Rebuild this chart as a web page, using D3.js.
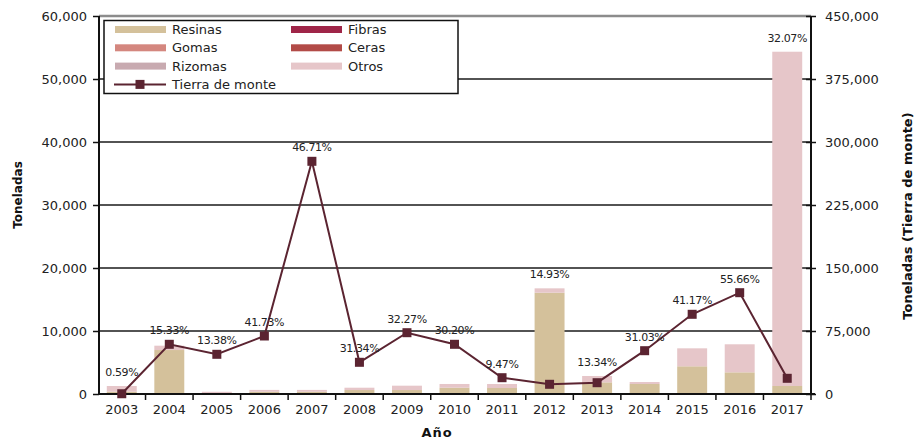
<!DOCTYPE html>
<html><head><meta charset="utf-8">
<script src="https://cdn.jsdelivr.net/npm/d3@7"></script>
<style>
html,body{margin:0;padding:0;background:#fff;}
svg{display:block;font-family:"DejaVu Sans",sans-serif;}
</style></head>
<body>
<svg id="chart" width="916" height="443"></svg>
<script>
const years = ["2003","2004","2005","2006","2007","2008","2009","2010","2011","2012","2013","2014","2015","2016","2017"];
const resinas = [370,6980,100,350,350,630,630,1000,950,16080,1850,1590,4400,3440,1270];
const fibras  = [0,0,0,0,0,0,0,0,0,0,0,0,0,0,0];
const gomas   = [0,0,0,0,0,0,0,0,0,0,0,0,0,0,0];
const ceras   = [0,0,0,0,0,0,0,0,0,0,0,0,0,0,0];
const rizomas = [0,0,0,0,0,0,0,0,0,0,0,0,0,0,0];
const otros   = [900,690,250,300,300,370,690,590,640,690,1010,310,2850,4450,53060];
const tierraDeMonte = [300,59170,47260,69050,277020,37740,72980,59170,19400,11550,13450,51550,94880,120600,18690];
const pctLabels = ["0.59%","15.33%","13.38%","41.73%","46.71%","31.34%","32.27%","30.20%","9.47%","14.93%","13.34%","31.03%","41.17%","55.66%","32.07%"];
const leftTicks = [0,10000,20000,30000,40000,50000,60000];
const rightTicks = [0,75000,150000,225000,300000,375000,450000];

const seriesNames = ["Resinas","Fibras","Gomas","Ceras","Rizomas","Otros"];
const seriesVals = [resinas,fibras,gomas,ceras,rizomas,otros];
const colors = {Resinas:"#d4c19b",Fibras:"#9f2548",Gomas:"#d4877f",Ceras:"#b24b47",Rizomas:"#c8aab0",Otros:"#e6c6c9"};
const lineColor = "#5b2431";

const svg = d3.select("#chart");
const L = 99, R = 811, T = 16, B = 394;

const x = d3.scaleBand().domain(years).range([98, 811]).paddingInner(0.37).paddingOuter(0.185);
const xc = d3.scaleBand().domain(years).range([98, 811]);
const yL = d3.scaleLinear().domain([0,60000]).range([B,T]);
const yR = d3.scaleLinear().domain([0,450000]).range([B,T]);

// gridlines
svg.append("g").selectAll("line").data(leftTicks.filter(d=>d>0)).join("line")
  .attr("x1",L).attr("x2",R).attr("y1",d=>yL(d)).attr("y2",d=>yL(d))
  .attr("stroke",d=>d===60000?"#8c8c8c":"#1a1a1a").attr("stroke-width",d=>d===60000?2.5:1.6);

// stacked bars
const table = years.map((yr,i)=>{const o={year:yr}; seriesNames.forEach((s,k)=>o[s]=seriesVals[k][i]); return o;});
const stacked = d3.stack().keys(seriesNames)(table);
svg.append("g").selectAll("g").data(stacked).join("g").attr("fill",d=>colors[d.key])
  .selectAll("rect").data(d=>d).join("rect")
  .attr("x",d=>x(d.data.year)).attr("width",x.bandwidth())
  .attr("y",d=>yL(d[1])).attr("height",d=>Math.max(0,yL(d[0])-yL(d[1])));

// axes
const gx = svg.append("g").attr("transform",`translate(0,${B})`)
  .call(d3.axisBottom(xc).tickSize(0).tickPadding(11));
gx.select(".domain").remove();
gx.selectAll("text").attr("font-size","13px").attr("fill","#222").attr("font-family","DejaVu Sans");
// boundary ticks
svg.append("g").selectAll("line").data(years.slice(1).concat(["end"])).join("line")
  .attr("x1",(d,i)=>xc(years[0])+ (i+1)*xc.step()).attr("x2",(d,i)=>xc(years[0])+(i+1)*xc.step())
  .attr("y1",B).attr("y2",B+6).attr("stroke","#111").attr("stroke-width",1.5);
svg.append("line").attr("x1",L).attr("x2",R+4).attr("y1",B).attr("y2",B).attr("stroke","#111").attr("stroke-width",2);

const gl = svg.append("g").attr("transform",`translate(${L},0)`)
  .call(d3.axisLeft(yL).tickValues(leftTicks).tickFormat(d3.format(",")).tickSize(6).tickPadding(6));
gl.select(".domain").attr("stroke","#111").attr("stroke-width",2).attr("d",`M0,${B}V${T}`);
gl.selectAll(".tick line").attr("stroke","#111").attr("stroke-width",1.5);
gl.selectAll("text").attr("font-size","13px").attr("fill","#222").attr("font-family","DejaVu Sans");

const gr = svg.append("g").attr("transform",`translate(${R},0)`)
  .call(d3.axisRight(yR).tickValues(rightTicks).tickFormat(d3.format(",")).tickSize(5).tickPadding(9));
gr.select(".domain").attr("stroke","#111").attr("stroke-width",2).attr("d",`M0,${B}V${T}`);
gr.selectAll(".tick line").attr("stroke","#111").attr("stroke-width",1.5).attr("x1",-5);
gr.selectAll("text").attr("font-size","13px").attr("fill","#222").attr("font-family","DejaVu Sans");

// line
const lineGen = d3.line().x((d,i)=>xc(years[i])+xc.bandwidth()/2).y(d=>yR(d));
svg.append("path").datum(tierraDeMonte).attr("d",lineGen).attr("fill","none")
  .attr("stroke",lineColor).attr("stroke-width",2);
svg.append("g").selectAll("rect").data(tierraDeMonte).join("rect")
  .attr("x",(d,i)=>xc(years[i])+xc.bandwidth()/2-4.5).attr("y",d=>yR(d)-4.5)
  .attr("width",9).attr("height",9).attr("fill",lineColor);

// percentage labels
const totals = years.map((y,i)=>d3.sum(seriesVals,s=>s[i]));
svg.append("g").selectAll("text").data(pctLabels).join("text")
  .attr("x",(d,i)=>xc(years[i])+xc.bandwidth()/2)
  .attr("y",(d,i)=>Math.min(yL(totals[i]),yR(tierraDeMonte[i]))-10)
  .attr("text-anchor","middle").attr("font-size","11px").attr("fill","#222")
  .attr("letter-spacing","-0.4px").text(d=>d);

// axis titles
svg.append("text").attr("transform","translate(22,195) rotate(-90)").attr("text-anchor","middle")
  .attr("font-size","12px").attr("font-weight","bold").attr("fill","#111").text("Toneladas");
svg.append("text").attr("transform","translate(912,216) rotate(-90)").attr("text-anchor","middle")
  .attr("font-size","13px").attr("font-weight","bold").attr("fill","#111").text("Toneladas (Tierra de monte)");
svg.append("text").attr("x",437).attr("y",437).attr("text-anchor","middle")
  .attr("font-size","13px").attr("font-weight","bold").attr("fill","#111").attr("letter-spacing","1px").text("Año");

// legend
const lg = svg.append("g");
lg.append("rect").attr("x",104).attr("y",20.5).attr("width",354).attr("height",73)
  .attr("fill","#fff").attr("stroke","#111").attr("stroke-width",1.5);
seriesNames.forEach((s,k)=>{
  const col = k%2, row = Math.floor(k/2);
  const sx = col===0?115:291, sy = 29.5 + row*18.3;
  lg.append("rect").attr("x",sx).attr("y",sy-3.5).attr("width",51).attr("height",7).attr("fill",colors[s]);
  lg.append("text").attr("x",sx+57).attr("y",sy+4.5).attr("font-size","13px").attr("fill","#222").text(s);
});
const ly = 29.5 + 3*18.3;
lg.append("line").attr("x1",114).attr("x2",166).attr("y1",ly).attr("y2",ly).attr("stroke",lineColor).attr("stroke-width",2);
lg.append("rect").attr("x",135.5).attr("y",ly-4.5).attr("width",9).attr("height",9).attr("fill",lineColor);
lg.append("text").attr("x",172).attr("y",ly+4.5).attr("font-size","13px").attr("fill","#222").text("Tierra de monte");
</script>
</body></html>
